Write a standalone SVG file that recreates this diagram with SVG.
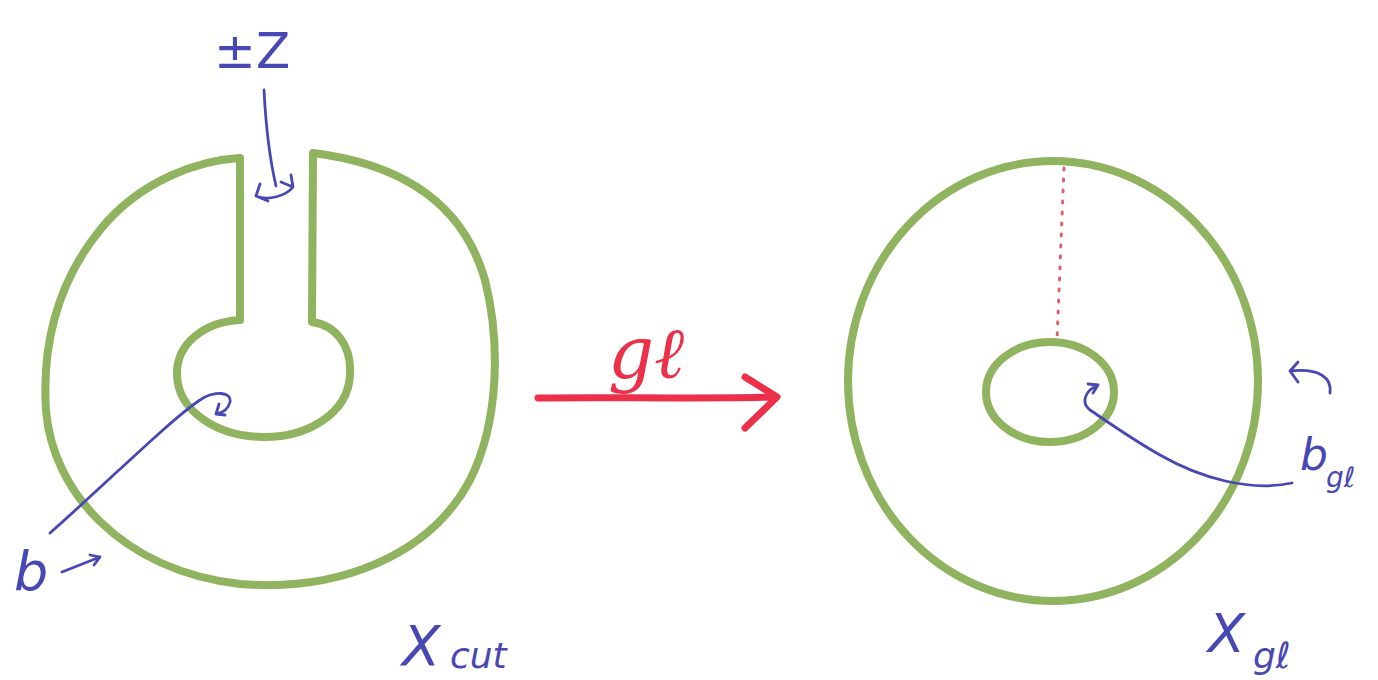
<svg xmlns="http://www.w3.org/2000/svg" width="1378" height="680" viewBox="0 0 1378 680">
<defs>
<style>
.g{fill:none;stroke:#8fb35f;stroke-width:8;stroke-linejoin:round;stroke-linecap:round}
.b{fill:none;stroke:#4848b4;stroke-width:2.8;stroke-linecap:round;stroke-linejoin:round}
.bt{fill:#4848b4;font-family:"DejaVu Sans",sans-serif;font-style:italic}
.r{fill:none;stroke:#ec3049;stroke-width:7;stroke-linecap:round;stroke-linejoin:round}
</style>
</defs>
<rect width="1378" height="680" fill="#ffffff"/>
<g id="xcut">
<path class="g" d="M240,320 L240,158 C200,160 140,180 100,230 C55,285 42,350 46,410 C52,490 120,570 240,584 C340,592 430,555 470,480 C500,420 500,340 485,280 C465,210 410,165 313,153 L312,322 C335,325 352,345 350,375 C348,415 305,438 262,437 C215,436 178,410 177,375 C176,343 205,322 240,320 Z"/>
</g>
<g id="xgl">
<ellipse class="g" cx="1053" cy="381" rx="205" ry="220"/>
<ellipse class="g" cx="1050" cy="392" rx="64" ry="50"/>
<path d="M1064,168 L1057,341" fill="none" stroke="#e06070" stroke-width="3" stroke-dasharray="2,9" stroke-linecap="round"/>
</g>
<g id="connectors">
<path class="r" d="M538,398 C600,397 700,399 775,397"/>
<path class="r" d="M745,377 L777,397 L745,428"/>
<path class="b" d="M264,90 C266,130 270,160 276,186"/>
<path class="b" d="M256,196 C268,201 286,196 293,187 M256,196 L260,184 M256,196 L268,201 M293,187 L281,182 M293,187 L291,175"/>
<path class="b" d="M50,533 C110,480 170,420 200,400 C215,390 232,392 230,402 C228,410 222,413 216,414 M216,414 L219,404 M216,414 L225,415"/>
<path class="b" d="M62,572 L100,557 M100,557 L90,555 M100,557 L94,565"/>
<path class="b" d="M1292,483 C1250,492 1200,478 1160,455 C1130,438 1105,420 1090,410 C1080,402 1086,390 1098,385 M1098,385 L1088,384 M1098,385 L1093,393"/>
<path class="b" d="M1330,393 C1332,378 1320,368 1290,371 M1290,371 L1298,362 M1290,371 L1298,382"/>
</g>
<g id="labels">
<text class="bt" x="214" y="68" font-size="50" style="font-style:normal">±Z</text>
<text class="bt" x="14" y="590" font-size="54">b</text>
<text class="bt" x="402" y="665" font-size="56">X</text>
<text class="bt" x="450" y="668" font-size="36">cut</text>
<text class="bt" x="1208" y="652" font-size="54">X</text>
<text class="bt" x="1253" y="668" font-size="36">gℓ</text>
<text class="bt" x="1300" y="470" font-size="44">b</text>
<text class="bt" x="1326" y="487" font-size="28">gℓ</text>
<text x="608" y="378" font-size="72" fill="#ec3049" font-family="DejaVu Serif,serif" font-style="italic">gℓ</text>
</g>
</svg>
